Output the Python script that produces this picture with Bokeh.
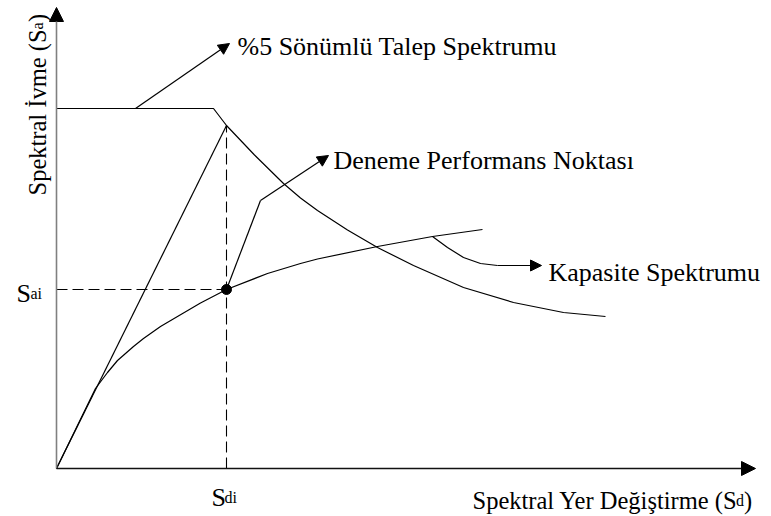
import math
from bokeh.plotting import figure
from bokeh.models import Range1d, Arrow, NormalHead, Label
from bokeh.embed import file_html
from bokeh.resources import INLINE

# ---- data (arbitrary spectral units; origin at Sd=0, Sa=0) ----
# 5% damped demand spectrum (plateau then descending branch)
demand_sd = [0, 157, 170, 198, 227, 244, 261, 291, 321, 357, 407, 457, 507, 549]
demand_sa = [360, 360, 343, 313.5, 285, 270.5, 258, 238.5, 221, 203, 181, 166, 156, 152]

# capacity spectrum
capacity_sd = [0, 39, 51, 61, 77, 87, 104, 121, 144, 170, 211, 244, 261, 321, 376, 426]
capacity_sa = [0, 80, 96, 108, 122, 130, 142, 152, 165.5, 179, 195, 205, 209.5, 222, 232, 239]

# initial stiffness line (origin to demand spectrum)
initial_sd = [0, 170]
initial_sa = [0, 343]

# trial performance point
perf_sd = 170
perf_sa = 179

# annotation leader paths
talep_leader_sd = [79, 173]
talep_leader_sa = [360, 425]
perf_leader_sd = [170, 204, 272]
perf_leader_sa = [179, 268, 313]
kap_leader_sd = [376, 391, 407, 424, 441, 485]
kap_leader_sa = [232, 221, 211, 205, 203, 203]

# axis extents
x_axis_end = 699
y_axis_end = 461

FONT = "Liberation Serif"

p = figure(width=771, height=516, output_backend="svg", toolbar_location=None,
           x_range=Range1d(-56, 715), y_range=Range1d(-48, 468),
           x_axis_type=None, y_axis_type=None,
           min_border=0, min_border_left=0, min_border_right=0,
           min_border_top=0, min_border_bottom=0)
p.outline_line_color = None
p.grid.visible = False
p.background_fill_color = "white"
p.border_fill_color = "white"

# axes with arrows
p.add_layout(Arrow(end=NormalHead(size=14, fill_color="black", line_color="black", line_width=1),
                   x_start=0, y_start=0, x_end=0, y_end=y_axis_end,
                   line_color="#808080", line_width=1.6))
p.add_layout(Arrow(end=NormalHead(size=14, fill_color="black", line_color="black", line_width=1),
                   x_start=0, y_start=0, x_end=x_axis_end, y_end=0,
                   line_color="#111111", line_width=1.4))

# curves
p.line(demand_sd, demand_sa, line_color="black", line_width=1.2)
p.line(capacity_sd, capacity_sa, line_color="black", line_width=1.2)
p.line(initial_sd, initial_sa, line_color="black", line_width=1.2)

# dashed guide lines
p.line([perf_sd, perf_sd], [0, initial_sa[-1]], line_color="black", line_width=1.1, line_dash="11 5")
p.line([0, perf_sd], [perf_sa, perf_sa], line_color="black", line_width=1.1, line_dash="11 5")

# leaders
head = dict(size=11, fill_color="black", line_color="black", line_width=1)
p.add_layout(Arrow(end=NormalHead(**head), x_start=talep_leader_sd[0], y_start=talep_leader_sa[0],
                   x_end=talep_leader_sd[1], y_end=talep_leader_sa[1], line_color="black", line_width=1.2))
p.line(perf_leader_sd[:2], perf_leader_sa[:2], line_color="black", line_width=1.2)
p.add_layout(Arrow(end=NormalHead(**head), x_start=perf_leader_sd[1], y_start=perf_leader_sa[1],
                   x_end=perf_leader_sd[2], y_end=perf_leader_sa[2], line_color="black", line_width=1.2))
p.line(kap_leader_sd[:-1], kap_leader_sa[:-1], line_color="black", line_width=1.2)
p.add_layout(Arrow(end=NormalHead(**head), x_start=kap_leader_sd[-2], y_start=kap_leader_sa[-2],
                   x_end=kap_leader_sd[-1], y_end=kap_leader_sa[-1], line_color="black", line_width=1.2))

# performance point marker
p.scatter([perf_sd], [perf_sa], size=10, fill_color="black", line_color="black")

def lab(x, y, t, size, angle=0.0):
    p.add_layout(Label(x=x, y=y, text=t, text_font=FONT, text_font_size=size,
                       text_color="black", text_align="left", text_baseline="alphabetic",
                       angle=angle))

# annotation texts
lab(181, 422, "%5 Sönümlü Talep Spektrumu", "26px")
lab(277, 308, "Deneme Performans Noktası", "26px")
lab(492, 196, "Kapasite Spektrumu", "26px")

# S_ai and S_di labels
lab(-40, 175, "S", "26px")
lab(-26, 175, "ai", "16px")
lab(155, -29, "S", "26px")
lab(168, -29, "di", "16px")

# axis titles
lab(416, -32, "Spektral Yer Değiştirme (S", "24.5px")
lab(679.5, -32, "d", "16px")
lab(687.5, -32, ")", "24.5px")

lab(-19, 273, "Spektral İvme (S", "24.5px", math.pi / 2)
lab(-19, 439, "a", "16px", math.pi / 2)
lab(-19, 446.5, ")", "24.5px", math.pi / 2)

open("out.html", "w").write(file_html(p, INLINE))
